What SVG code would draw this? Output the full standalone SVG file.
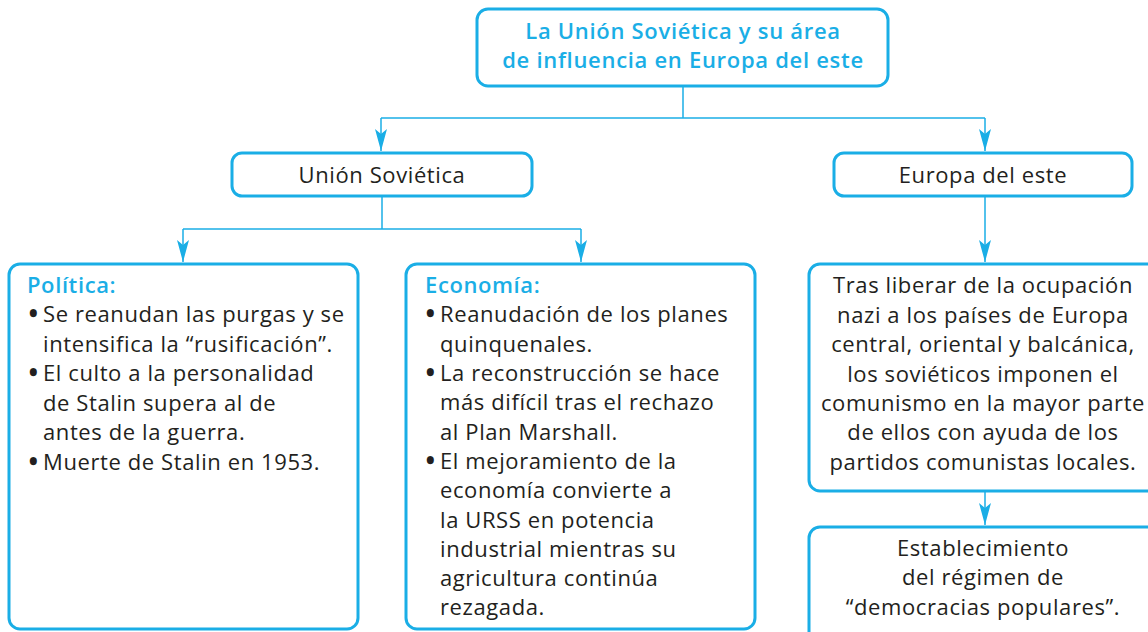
<svg xmlns="http://www.w3.org/2000/svg" width="1148" height="632" viewBox="0 0 1148 632">
<style>
.box{fill:#fff;stroke:#1aaee6;stroke-width:3}
.con{fill:none;stroke:#1aaee6;stroke-width:1.5}
.t{font-family:"Open Sans","Noto Sans",sans-serif;font-size:22px;letter-spacing:0.6px;fill:#231f20}
.c{text-anchor:middle}
.h{fill:#1aaee6;font-weight:600}
.b{font-weight:800;letter-spacing:0}
</style>
<defs>
<marker id="arr" markerUnits="userSpaceOnUse" viewBox="0 0 22 12" refX="22" refY="6" markerWidth="22" markerHeight="12" orient="auto">
<path d="M0,0 L22,6 L0,12 L5,6 z" fill="#1aaee6"/>
</marker>
</defs>
<rect width="1148" height="632" fill="#fff"/>
<g id="connectors">
<path class="con" d="M683,86 V118"/>
<path class="con" d="M381,118 H985"/>
<path class="con" d="M381,118 V151" marker-end="url(#arr)"/>
<path class="con" d="M985,118 V151" marker-end="url(#arr)"/>
<path class="con" d="M382,196 V229"/>
<path class="con" d="M183,229 H581"/>
<path class="con" d="M183,229 V262" marker-end="url(#arr)"/>
<path class="con" d="M581,229 V262" marker-end="url(#arr)"/>
<path class="con" d="M985,196 V262" marker-end="url(#arr)"/>
<path class="con" d="M985,491 V525" marker-end="url(#arr)"/>
</g>
<g id="title">
<rect class="box" x="477" y="9" width="411" height="77" rx="11"/>
<text class="t c h" x="683" y="39" style="letter-spacing:0.7px">La Unión Soviética y su área</text>
<text class="t c h" x="683" y="68" style="letter-spacing:0.7px">de influencia en Europa del este</text>
</g>
<g id="union">
<rect class="box" x="232" y="153" width="300" height="43" rx="10"/>
<text class="t c" x="382" y="183">Unión Soviética</text>
</g>
<g id="europa">
<rect class="box" x="834" y="153" width="298" height="43" rx="10"/>
<text class="t c" x="983" y="183">Europa del este</text>
</g>
<g id="politica">
<rect class="box" x="9" y="264" width="349" height="365" rx="11"/>
<text class="t h" x="27" y="293">Política:</text>
<text class="t b" x="29" y="322">•</text><text class="t" x="43" y="322">Se reanudan las purgas y se</text>
<text class="t" x="43" y="352">intensifica la “rusificación”.</text>
<text class="t b" x="29" y="381">•</text><text class="t" x="43" y="381">El culto a la personalidad</text>
<text class="t" x="43" y="411">de Stalin supera al de</text>
<text class="t" x="43" y="440">antes de la guerra.</text>
<text class="t b" x="29" y="470">•</text><text class="t" x="43" y="470">Muerte de Stalin en 1953.</text>
</g>
<g id="economia">
<rect class="box" x="406" y="264" width="349" height="365" rx="11"/>
<text class="t h" x="425" y="293">Economía:</text>
<text class="t b" x="426" y="322">•</text><text class="t" x="440" y="322">Reanudación de los planes</text>
<text class="t" x="440" y="352">quinquenales.</text>
<text class="t b" x="426" y="381">•</text><text class="t" x="440" y="381">La reconstrucción se hace</text>
<text class="t" x="440" y="410">más difícil tras el rechazo</text>
<text class="t" x="440" y="440">al Plan Marshall.</text>
<text class="t b" x="426" y="469">•</text><text class="t" x="440" y="469">El mejoramiento de la</text>
<text class="t" x="440" y="498">economía convierte a</text>
<text class="t" x="440" y="528">la URSS en potencia</text>
<text class="t" x="440" y="557">industrial mientras su</text>
<text class="t" x="440" y="586">agricultura continúa</text>
<text class="t" x="440" y="615">rezagada.</text>
</g>
<g id="tras">
<rect class="box" x="809" y="264" width="350" height="227" rx="11"/>
<text class="t c" x="983" y="293">Tras liberar de la ocupación</text>
<text class="t c" x="983" y="323">nazi a los países de Europa</text>
<text class="t c" x="983" y="352">central, oriental y balcánica,</text>
<text class="t c" x="983" y="382">los soviéticos imponen el</text>
<text class="t c" x="983" y="411">comunismo en la mayor parte</text>
<text class="t c" x="983" y="440">de ellos con ayuda de los</text>
<text class="t c" x="983" y="470">partidos comunistas locales.</text>
</g>
<g id="establecimiento">
<rect class="box" x="809" y="527" width="350" height="120" rx="11"/>
<text class="t c" x="983" y="556">Establecimiento</text>
<text class="t c" x="983" y="585">del régimen de</text>
<text class="t c" x="983" y="615">“democracias populares”.</text>
</g>
</svg>
